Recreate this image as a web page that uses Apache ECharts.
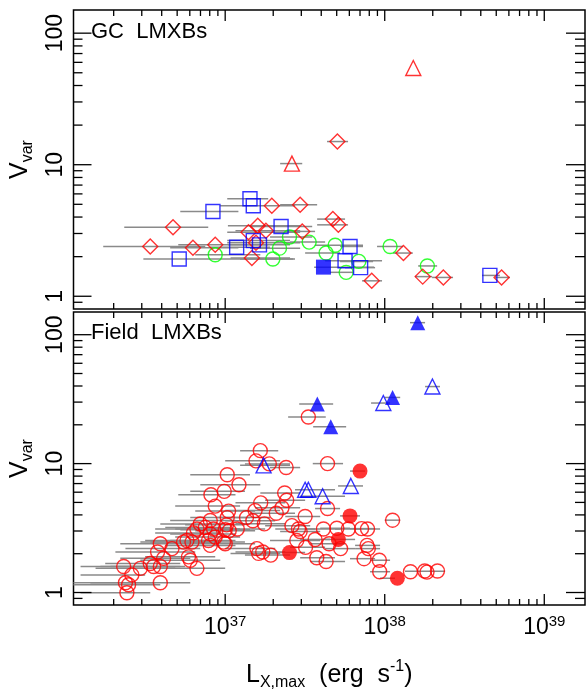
<!DOCTYPE html>
<html>
<head>
<meta charset="utf-8">
<script src="https://cdn.jsdelivr.net/npm/echarts@6/dist/echarts.min.js"></script>
<style>
html, body { margin: 0; padding: 0; background: #fff; }
#chart { width: 586px; height: 692px; }
</style>
</head>
<body>
<div id="chart"></div>
<script>
// L_X,max in units of 1e37 erg/s, V_var
const gcDiamonds = [[0.339, 2.39], [0.471, 3.34], [0.628, 2.34], [0.866, 2.46], [1.40, 3.07], [1.60, 3.43], [1.80, 3.15], [1.47, 1.95], [1.56, 2.55], [1.96, 4.88], [2.95, 4.96], [3.04, 3.11], [5.05, 15.0], [4.73, 3.86], [5.12, 3.49], [13.1, 2.13], [8.29, 1.31], [17.3, 1.41], [23.3, 1.39], [54.0, 1.39]]
const gcTriangles = [[2.62, 10.2], [15.1, 54.4]]
const gcSquares = [[0.838, 4.41], [1.43, 5.51], [1.50, 4.88], [0.515, 1.92], [1.18, 2.36], [2.24, 3.39], [1.50, 2.65], [1.64, 2.46], [6.06, 2.39], [5.64, 1.86], [7.06, 1.65], [45.6, 1.44]]
const gcSquaresFilled = [[4.13, 1.665]]
const gcCircles = [[0.866, 2.07], [1.99, 1.92], [2.19, 2.32], [2.53, 2.82], [3.36, 2.58], [4.29, 2.13], [4.89, 2.44], [5.73, 1.52], [6.88, 1.84], [10.8, 2.39], [18.5, 1.70]]
// [L low, L high, V]
const gcBars = [[0.172, 0.750, 2.39], [0.233, 0.783, 3.34], [0.307, 2.67, 1.92], [0.452, 1.21, 2.34], [0.508, 1.86, 2.46], [0.523, 1.21, 4.41], [1.03, 1.86, 5.51], [0.93, 2.74, 4.88], [1.03, 2.95, 3.07], [1.04, 2.95, 3.43], [1.16, 2.95, 3.15], [1.43, 3.51, 3.39], [1.08, 2.55, 1.95], [0.649, 1.66, 2.07], [1.24, 2.74, 1.92], [1.43, 2.95, 2.32], [0.806, 1.91, 2.36], [1.03, 2.55, 2.65], [1.04, 2.55, 2.46], [1.03, 2.95, 2.55], [1.91, 3.51, 2.82], [2.21, 3.77, 4.96], [2.38, 3.66, 3.11], [2.21, 3.04, 10.2], [2.55, 4.23, 2.58], [4.35, 5.89, 15.0], [3.77, 5.64, 3.86], [3.77, 5.89, 3.49], [3.17, 5.25, 2.13], [3.66, 7.31, 2.44], [5.25, 7.31, 2.39], [4.23, 9.62, 1.86], [3.61, 8.57, 1.665], [5.64, 8.70, 1.65], [4.54, 6.33, 1.52], [5.25, 8.45, 1.84], [7.21, 9.62, 1.31], [8.95, 13.0, 2.39], [11.3, 15.0, 2.13], [16.2, 21.3, 1.70], [15.5, 19.8, 1.41], [19.8, 26.8, 1.39], [40.7, 52.7, 1.44], [49.1, 60.9, 1.39]]

const fieldCircles = [[1.66, 12.6], [1.56, 10.5], [1.89, 9.95], [2.41, 9.32], [4.38, 10.0], [3.32, 23.0], [1.03, 8.20], [1.22, 6.85], [0.986, 6.09], [0.814, 5.74], [0.866, 4.68], [2.36, 5.91], [2.43, 5.20], [1.67, 4.96], [1.54, 4.32], [1.05, 4.28], [1.03, 3.81], [1.02, 3.35], [1.00, 3.07], [2.27, 4.54], [2.09, 4.12], [3.17, 3.89], [4.38, 4.48], [1.36, 3.81], [1.49, 3.60], [1.76, 3.41], [2.62, 3.30], [2.88, 3.11], [2.95, 2.97], [2.81, 2.53], [3.19, 2.24], [3.66, 2.58], [4.13, 3.11], [5.01, 3.15], [5.92, 3.11], [7.16, 3.13], [7.80, 3.11], [4.48, 2.39], [5.29, 2.19], [7.75, 2.32], [7.89, 2.19], [3.75, 1.86], [4.29, 1.74], [7.42, 1.83], [9.25, 1.78], [9.30, 1.45], [11.2, 3.64], [14.5, 1.45], [17.8, 1.47], [18.4, 1.44], [21.4, 1.47], [1.58, 2.19], [1.72, 2.06], [1.93, 1.95], [0.976, 2.46], [0.576, 2.53], [0.619, 2.46], [0.786, 2.53], [0.866, 2.69], [1.00, 2.39], [0.806, 2.32], [0.698, 3.40], [0.750, 3.20], [0.665, 3.11], [0.845, 3.11], [0.806, 2.85], [0.633, 2.90], [0.464, 2.19], [0.392, 2.39], [0.377, 2.06], [0.589, 1.89], [0.604, 1.78], [0.665, 1.54], [0.411, 1.84], [0.392, 1.59], [0.356, 1.59], [0.339, 1.68], [0.294, 1.54], [0.231, 1.59], [0.260, 1.37], [0.392, 1.19], [0.237, 1.19], [0.248, 1.15], [0.242, 0.995], [1.62, 2.01], [1.06, 3.02], [1.19, 3.11], [0.548, 2.46], [0.806, 3.62]]
const fieldCirclesFilled = [[7.00, 8.75], [6.06, 3.93], [5.12, 2.58], [2.53, 2.04], [12.0, 1.29]]
const fieldTriangles = [[19.9, 39.6], [9.80, 29.5], [3.17, 6.27], [3.32, 6.27], [4.08, 5.58], [6.13, 6.71], [1.74, 9.69]]
const fieldTrianglesFilled = [[16.1, 124], [3.78, 29.0], [4.59, 19.3], [11.2, 32.6]]
const fieldBars = [[1.24, 2.15, 12.6], [1.00, 2.21, 10.5], [1.33, 2.55, 9.95], [1.91, 2.95, 9.32], [3.54, 5.48, 10.0], [2.48, 4.27, 23.0], [0.604, 1.43, 8.20], [0.698, 1.66, 6.85], [0.604, 1.33, 6.09], [0.508, 1.16, 5.74], [0.486, 1.24, 4.68], [1.66, 2.95, 5.91], [1.78, 3.17, 5.20], [1.16, 2.38, 4.96], [1.00, 2.21, 4.32], [0.649, 1.54, 4.28], [0.604, 1.43, 3.81], [0.561, 1.33, 3.35], [0.523, 1.43, 3.07], [1.54, 2.95, 4.54], [1.43, 2.74, 4.12], [2.38, 3.94, 3.89], [3.66, 5.25, 4.48], [0.866, 1.91, 3.81], [1.00, 2.06, 3.60], [1.16, 2.38, 3.41], [1.78, 3.41, 3.30], [2.06, 3.66, 3.11], [2.21, 3.94, 2.97], [1.91, 3.94, 2.53], [2.55, 4.23, 2.24], [2.95, 4.54, 2.58], [3.17, 5.25, 3.11], [3.94, 6.06, 3.15], [4.88, 7.00, 3.11], [6.06, 8.70, 3.13], [6.52, 9.35, 3.11], [3.41, 5.64, 2.39], [4.23, 6.52, 2.19], [6.52, 9.35, 2.32], [6.52, 9.35, 2.19], [2.95, 4.88, 1.86], [3.41, 5.64, 1.74], [6.06, 8.70, 1.83], [8.09, 10.8, 1.78], [8.09, 10.8, 1.45], [10.0, 12.5, 3.64], [13.4, 23.9, 1.46], [1.00, 2.06, 2.19], [1.16, 2.38, 2.06], [1.33, 2.55, 1.95], [0.561, 1.33, 2.46], [0.315, 0.866, 2.53], [0.339, 0.931, 2.46], [0.452, 1.16, 2.53], [0.486, 1.24, 2.69], [0.561, 1.54, 2.39], [0.421, 1.16, 2.32], [0.392, 1.00, 3.40], [0.421, 1.08, 3.20], [0.364, 1.00, 3.11], [0.486, 1.24, 3.11], [0.452, 1.16, 2.85], [0.364, 0.931, 2.90], [0.237, 0.698, 2.19], [0.220, 0.604, 2.39], [0.205, 0.649, 2.06], [0.315, 0.866, 1.89], [0.294, 0.931, 1.78], [0.339, 1.00, 1.54], [0.220, 0.604, 1.84], [0.191, 0.561, 1.59], [0.165, 0.523, 1.59], [0.177, 0.523, 1.68], [0.154, 0.486, 1.54], [0.124, 0.339, 1.59], [0.124, 0.315, 1.37], [0.143, 0.604, 1.19], [0.10, 0.364, 1.19], [0.10, 0.392, 1.15], [0.124, 0.339, 0.995], [1.08, 2.21, 2.01], [0.649, 1.54, 3.02], [0.750, 1.78, 3.11], [0.294, 0.806, 2.46], [0.452, 1.16, 3.62], [6.06, 7.53, 8.75], [5.25, 7.00, 3.93], [4.23, 6.52, 2.58], [1.78, 3.17, 2.04], [9.35, 11.6, 1.29], [1.24, 2.55, 9.69], [2.74, 4.88, 6.27], [2.95, 5.64, 5.58], [5.10, 7.31, 6.71], [8.21, 10.8, 29.5], [17.9, 22.2, 39.6], [2.91, 4.75, 29.0], [3.56, 5.73, 19.3], [10.0, 12.5, 32.6], [14.4, 17.9, 124]]

const xMajorTicks = [1, 10, 100]
const xMinorTicks = [0.2, 0.3, 0.4, 0.5, 0.6, 0.7, 0.8, 0.9, 2, 3, 4, 5, 6, 7, 8, 9, 20, 30, 40, 50, 60, 70, 80, 90]
const yMajorTicks = [1, 10, 100]
const yMinorTicks = [0.9, 2, 3, 4, 5, 6, 7, 8, 9, 20, 30, 40, 50, 60, 70, 80, 90]

const FONT = 'Liberation Sans'
const RED = '#ff0000', BLUE = '#0000ff', GREEN = '#00ff00'
const xMin = 0.112, xMax = 180, yMin = 0.8, yMax = 150

function isPow10 (v) {
    const e = Math.log10(v)
    return Math.abs(e - Math.round(e)) < 1e-6
}

function xAxisFor (gi, withLabels) {
    const axis = {
        type: 'log', logBase: 10, gridIndex: gi, min: xMin, max: xMax,
        axisLine: { show: false }, axisTick: { show: false }, splitLine: { show: false },
        axisLabel: {
            show: withLabels, margin: 9, showMinLabel: false, showMaxLabel: false,
            formatter: v => isPow10(v) ? '{b|10}{s|' + (37 + Math.round(Math.log10(v))) + '}' : '',
            rich: {
                b: { fontFamily: FONT, fontSize: 23, lineHeight: 28, color: '#000' },
                s: { fontFamily: FONT, fontSize: 15, lineHeight: 16, color: '#000', verticalAlign: 'top' }
            }
        }
    }
    if (withLabels) {
        axis.name = '{a|L}{sub|X,max}{a|  (erg  s}{sup|-1}{a|)}'
        axis.nameLocation = 'middle'
        axis.nameGap = 54
        axis.nameTextStyle = {
            rich: {
                a: { fontFamily: FONT, fontSize: 25, lineHeight: 32, color: '#000' },
                sub: { fontFamily: FONT, fontSize: 16, lineHeight: 16, color: '#000', verticalAlign: 'bottom' },
                sup: { fontFamily: FONT, fontSize: 16, lineHeight: 18, color: '#000', verticalAlign: 'top' }
            }
        }
    }
    return axis
}

function yAxisFor (gi) {
    return {
        type: 'log', logBase: 10, gridIndex: gi, min: yMin, max: yMax,
        axisLine: { show: false }, axisTick: { show: false }, splitLine: { show: false },
        axisLabel: {
            rotate: 90, margin: 6, showMinLabel: false, showMaxLabel: false,
            fontFamily: FONT, fontSize: 23, color: '#000',
            formatter: v => isPow10(v) ? String(Math.round(v)) : ''
        },
        name: '{a|V}{sub|var}', nameLocation: 'middle', nameGap: 38,
        nameTextStyle: {
            rich: {
                a: { fontFamily: FONT, fontSize: 25, lineHeight: 30, color: '#000' },
                sub: { fontFamily: FONT, fontSize: 16, lineHeight: 16, color: '#000', verticalAlign: 'bottom' }
            }
        }
    }
}

// inward ticks on all four sides, drawn through the axis scales
function tickSeries (gi, values, dir, lenA, lenB) {
    return {
        type: 'custom', xAxisIndex: gi, yAxisIndex: gi, silent: true, z: 6, clip: false,
        data: values.map(v => dir === 'x' ? [v, 1] : [1, v]),
        renderItem: (params, api) => {
            const cs = params.coordSys
            const st = { stroke: '#000', lineWidth: 1.3 }
            if (dir === 'x') {
                const px = api.coord([api.value(0), 1])[0]
                return { type: 'group', children: [
                    { type: 'line', shape: { x1: px, y1: cs.y + cs.height, x2: px, y2: cs.y + cs.height - lenA }, style: st },
                    { type: 'line', shape: { x1: px, y1: cs.y, x2: px, y2: cs.y + lenB }, style: st }
                ] }
            }
            const py = api.coord([1, api.value(1)])[1]
            return { type: 'group', children: [
                { type: 'line', shape: { x1: cs.x, y1: py, x2: cs.x + lenA, y2: py }, style: st },
                { type: 'line', shape: { x1: cs.x + cs.width, y1: py, x2: cs.x + cs.width - lenB, y2: py }, style: st }
            ] }
        }
    }
}

function barSeries (gi, bars) {
    return {
        type: 'custom', xAxisIndex: gi, yAxisIndex: gi, silent: true, z: 1, clip: true,
        data: bars,
        encode: { x: [0, 1], y: 2 },
        renderItem: (params, api) => {
            const cs = params.coordSys
            const a = api.coord([api.value(0), api.value(2)])
            const b = api.coord([api.value(1), api.value(2)])
            return {
                type: 'line',
                shape: { x1: Math.max(a[0], cs.x), y1: a[1], x2: Math.min(b[0], cs.x + cs.width), y2: b[1] },
                style: { stroke: '#8a8a8a', lineWidth: 1.5 }
            }
        }
    }
}

function pts (gi, data, symbol, color, filled, size) {
    return {
        type: 'scatter', xAxisIndex: gi, yAxisIndex: gi, data: data, symbol: symbol,
        symbolSize: size || 14, silent: true, z: 3, emphasis: { disabled: true },
        itemStyle: filled ? { color: color } : { color: 'rgba(0,0,0,0)', borderColor: color, borderWidth: 1.4 }
    }
}

const chart = echarts.init(document.getElementById('chart'), null, { renderer: 'canvas' })
chart.setOption({
    animation: false,
    backgroundColor: '#fff',
    title: [
        { text: 'GC  LMXBs', left: 91, top: 21, padding: 0, textStyle: { fontFamily: FONT, fontSize: 22, fontWeight: 'normal', color: '#000' } },
        { text: 'Field  LMXBs', left: 91, top: 322, padding: 0, textStyle: { fontFamily: FONT, fontSize: 22, fontWeight: 'normal', color: '#000' } }
    ],
    grid: [
        { left: 73, top: 10, width: 512, height: 299, show: true, borderColor: '#000', borderWidth: 1.5, backgroundColor: 'transparent' },
        { left: 73, top: 312, width: 512, height: 299, show: true, borderColor: '#000', borderWidth: 1.5, backgroundColor: 'transparent' }
    ],
    xAxis: [xAxisFor(0, false), xAxisFor(1, true)],
    yAxis: [yAxisFor(0), yAxisFor(1)],
    series: [
        barSeries(0, gcBars),
        pts(0, gcCircles, 'circle', GREEN, false, 14),
        pts(0, gcDiamonds, 'diamond', RED, false, 15),
        pts(0, gcSquares, 'rect', BLUE, false, 14),
        pts(0, gcSquaresFilled, 'rect', BLUE, true, 15),
        pts(0, gcTriangles, 'triangle', RED, false, 15),
        barSeries(1, fieldBars),
        pts(1, fieldCircles, 'circle', RED, false, 14),
        pts(1, fieldCirclesFilled, 'circle', RED, true, 15),
        pts(1, fieldTriangles, 'triangle', BLUE, false, 15),
        pts(1, fieldTrianglesFilled, 'triangle', BLUE, true, 15),
        tickSeries(0, xMajorTicks, 'x', 11, 11),
        tickSeries(0, xMinorTicks, 'x', 6, 6),
        tickSeries(0, yMajorTicks, 'y', 18, 19),
        tickSeries(0, yMinorTicks, 'y', 9, 10),
        tickSeries(1, xMajorTicks, 'x', 11, 11),
        tickSeries(1, xMinorTicks, 'x', 6, 6),
        tickSeries(1, yMajorTicks, 'y', 18, 19),
        tickSeries(1, yMinorTicks, 'y', 9, 10)
    ]
})
</script>
</body>
</html>
